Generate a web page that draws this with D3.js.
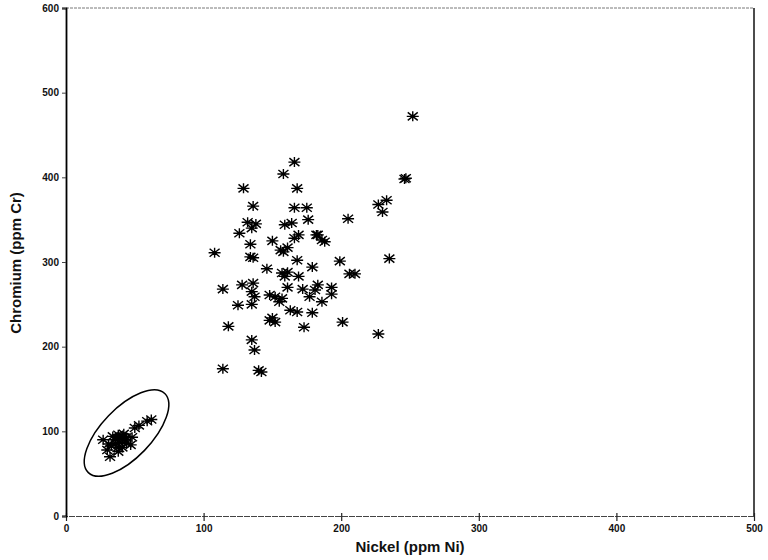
<!DOCTYPE html>
<html>
<head>
<meta charset="utf-8">
<script src="https://cdn.jsdelivr.net/npm/d3@7"></script>
<style>
  body { margin: 0; background: #fff; }
  svg { display: block; font-family: "Liberation Sans", Arial, sans-serif; }
</style>
</head>
<body>
<div id="chart"></div>
<script>
// Ni / Cr values (ppm)
const nickel = [252, 247, 246, 233, 227, 230, 205, 183, 188, 186, 199, 235, 210, 206, 183, 193, 193, 186, 201, 227,
  166, 158, 129, 168, 136, 166, 175, 176, 132, 135, 138, 159, 164, 126, 169, 166, 182, 150, 134, 156,
  161, 158, 108, 134, 136, 168, 179, 146, 157, 161, 159, 169, 128, 136, 114, 137, 135, 161, 172, 181,
  152, 148, 157, 155, 177, 125, 135, 163, 168, 179, 150, 152, 148, 118, 173, 135, 137, 114, 142, 140];
const chromium = [472, 399, 398, 373, 368, 359, 351, 332, 324, 326, 301, 304, 286, 286, 273, 270, 262, 253, 229, 215,
  418, 404, 387, 387, 366, 364, 364, 350, 347, 340, 345, 344, 346, 334, 332, 328, 332, 325, 321, 314,
  317, 312, 311, 306, 305, 302, 294, 292, 287, 288, 283, 283, 273, 275, 268, 259, 265, 270, 268, 267,
  259, 261, 257, 253, 259, 249, 250, 243, 241, 240, 234, 229, 231, 224, 223, 208, 196, 174, 170, 172];

// low-Ni group inside the ellipse
const nickelLow = [62, 59, 53, 50, 48, 27, 39, 36, 41, 47, 32, 30, 38, 38, 41, 43, 36, 39, 34, 42, 44, 33, 38, 44, 31];
const chromiumLow = [114, 112, 107, 104, 93, 90, 93, 86, 81, 84, 70, 78, 76, 96, 92, 90, 90, 87, 94, 97, 86, 83, 81, 93, 85];

const xTicks = [0, 100, 200, 300, 400, 500];
const yTicks = [0, 100, 200, 300, 400, 500, 600];

const W = 768, H = 560;
const svg = d3.select('#chart').append('svg').attr('width', W).attr('height', H);

const x = d3.scaleLinear().domain([0, 500]).range([66, 754]);
const y = d3.scaleLinear().domain([0, 600]).range([516, 8]);

// frame
svg.append('line').attr('x1', x(0)).attr('x2', x(500)).attr('y1', y(600)).attr('y2', y(600))
  .attr('stroke', '#555').attr('stroke-width', 0.8).attr('stroke-dasharray', '3,1');
svg.append('line').attr('x1', x(500)).attr('x2', x(500)).attr('y1', y(600)).attr('y2', y(0))
  .attr('stroke', '#111').attr('stroke-width', 1.5);

// axes
const xAxis = svg.append('g').attr('transform', `translate(0,${y(0)})`)
  .call(d3.axisBottom(x).tickValues(xTicks).tickSize(5).tickPadding(4));
xAxis.select('.domain').attr('stroke', '#444').attr('stroke-width', 1).attr('stroke-dasharray', '6,1');
xAxis.selectAll('.tick line').attr('stroke', '#222').attr('stroke-width', 1.2).attr('y1', -3);
xAxis.selectAll('.tick text').attr('font-size', 10).attr('font-weight', 'bold').attr('fill', '#111');

const yAxis = svg.append('g').attr('transform', `translate(${x(0)},0)`)
  .call(d3.axisLeft(y).tickValues(yTicks).tickSize(4).tickPadding(3));
yAxis.select('.domain').attr('stroke', '#000').attr('stroke-width', 1.8);
yAxis.selectAll('.tick line').attr('stroke', '#444').attr('stroke-width', 1);
yAxis.selectAll('.tick text').attr('font-size', 10).attr('font-weight', 'bold').attr('fill', '#111');

// axis titles
svg.append('text').attr('x', 410).attr('y', 552).attr('text-anchor', 'middle')
  .attr('font-size', 15).attr('font-weight', 'bold').attr('fill', '#111').text('Nickel (ppm Ni)');
svg.append('text').attr('transform', `translate(21,${263}) rotate(-90)`).attr('text-anchor', 'middle')
  .attr('font-size', 15).attr('font-weight', 'bold').attr('fill', '#111').text('Chromium (ppm Cr)');

// asterisk marker
const star = 'M-6,0H6M0,-5V5M-5,-4L5,4M-5,4L5,-4';
function drawStars(xs, ys) {
  svg.append('g').selectAll('path').data(xs).enter().append('path')
    .attr('d', star)
    .attr('transform', (d, i) => `translate(${x(d)},${y(ys[i])})`)
    .attr('fill', 'none').attr('stroke', '#000').attr('stroke-width', 1.4);
}
drawStars(nickel, chromium);
drawStars(nickelLow, chromiumLow);

// ellipse around the low group
const ecx = x(44), ecy = y(98);
svg.append('ellipse').attr('cx', 0).attr('cy', 0).attr('rx', 55).attr('ry', 25)
  .attr('transform', `translate(${ecx},${ecy}) rotate(-46)`)
  .attr('fill', 'none').attr('stroke', '#000').attr('stroke-width', 1.5);
</script>
</body>
</html>
